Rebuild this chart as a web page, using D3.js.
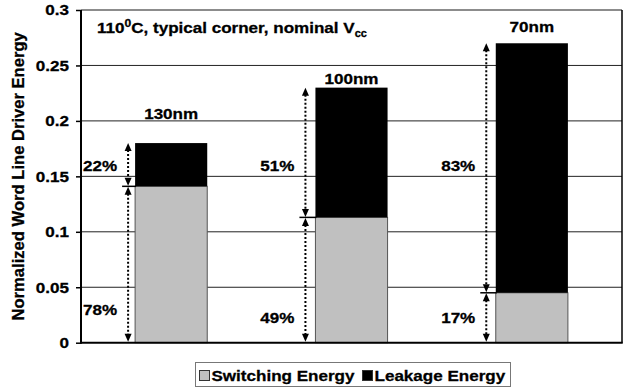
<!DOCTYPE html>
<html>
<head>
<meta charset="utf-8">
<script src="https://cdn.jsdelivr.net/npm/d3@7"></script>
<style>
  body { margin: 0; background: #fff; }
  svg { display: block; font-family: "Liberation Sans", Arial, sans-serif; font-weight: bold; }
  svg text { stroke: #000; stroke-width: 0.3px; fill: #000; }
</style>
</head>
<body>
<svg id="chart"></svg>
<script>
const nodes = ["130nm", "100nm", "70nm"];
const switching = [0.141, 0.113, 0.045];
const leakage = [0.039, 0.117, 0.225];
const yTicks = [0, 0.05, 0.1, 0.15, 0.2, 0.25, 0.3];
const yTickLabels = ["0", "0.05", "0.1", "0.15", "0.2", "0.25", "0.3"];
const seriesNames = ["Switching Energy", "Leakage Energy"];

// hand placement of the annotations in the original
const nodeLabelLift = [24, 4, 11];
const arrowGap = [7, 10, 9.5];

const width = 631, height = 387;
const plotL = 81, plotR = 622, plotT = 10, plotB = 342.7;
const svg = d3.select("#chart").attr("width", width).attr("height", height);

const x = d3.scaleBand().domain(nodes).range([plotL, plotR]).padding(0);
const y = d3.scaleLinear().domain([0, 0.3]).range([plotB, plotT]);
const barW = x.bandwidth() * 0.4;
const barX = d => x(d) + (x.bandwidth() - barW) / 2;

// gridlines
svg.append("g")
    .selectAll("line")
    .data(yTicks.slice(1))
    .enter().append("line")
    .attr("x1", plotL).attr("x2", plotR)
    .attr("y1", d => y(d)).attr("y2", d => y(d))
    .attr("stroke", d => d === 0.3 ? "#666" : "#222")
    .attr("stroke-width", d => d === 0.3 ? 1.5 : 1);

svg.append("line")
    .attr("x1", plotR).attr("x2", plotR)
    .attr("y1", plotT).attr("y2", plotB)
    .attr("stroke", "#000").attr("stroke-width", 1.5);

const data = nodes.map((n, i) => ({
    node: n, sw: switching[i], lk: leakage[i], total: switching[i] + leakage[i], i
}));

// stacked bars
svg.append("g").selectAll("rect")
    .data(data)
    .enter().append("rect")
    .attr("x", d => barX(d.node))
    .attr("width", barW)
    .attr("y", d => y(d.sw))
    .attr("height", d => y(0) - y(d.sw))
    .attr("fill", "#c0c0c0")
    .attr("stroke", "#555")
    .attr("stroke-width", 1);

svg.append("g").selectAll("rect")
    .data(data)
    .enter().append("rect")
    .attr("x", d => barX(d.node))
    .attr("width", barW)
    .attr("y", d => y(d.total))
    .attr("height", d => y(d.sw) - y(d.total))
    .attr("fill", "#000");

// axes
const yAxis = d3.axisLeft(y)
    .tickValues(yTicks)
    .tickFormat((d, i) => yTickLabels[i])
    .tickSize(5)
    .tickPadding(6);

const ag = svg.append("g")
    .attr("transform", `translate(${plotL},0)`)
    .call(yAxis);
ag.select(".domain").remove();
ag.selectAll(".tick line").attr("stroke", "#000").attr("stroke-width", 1.5);
ag.selectAll(".tick text")
    .attr("font-size", 15.5)
    .attr("font-family", "Liberation Sans, Arial, sans-serif")
    .attr("font-weight", "bold")
    .attr("fill", "#000")
    .attr("transform", "scale(1.1,1)");

svg.append("line")
    .attr("x1", plotL).attr("x2", plotL)
    .attr("y1", plotT).attr("y2", plotB + 1)
    .attr("stroke", "#000").attr("stroke-width", 2);
svg.append("line")
    .attr("x1", plotL).attr("x2", plotR + 0.75)
    .attr("y1", plotB).attr("y2", plotB)
    .attr("stroke", "#000").attr("stroke-width", 2);

svg.append("text")
    .attr("transform", `translate(24,${(plotT + plotB) / 2}) rotate(-90)`)
    .attr("text-anchor", "middle")
    .attr("font-size", 16.6)
    .text("Normalized Word Line Driver Energy");

// condition note
const note = svg.append("text")
    .attr("transform", "translate(97,33) scale(1.1,1)")
    .attr("font-size", 15.5);
note.append("tspan").text("110");
note.append("tspan").attr("font-size", 11).attr("dy", -6).text("0");
note.append("tspan").attr("dy", 6).text("C, typical corner, nominal V");
note.append("tspan").attr("font-size", 10).attr("dy", 4).text("cc");

// node labels
svg.append("g").selectAll("text")
    .data(data)
    .enter().append("text")
    .attr("transform", d => `translate(${barX(d.node) + barW / 2},${y(d.total) - nodeLabelLift[d.i]}) scale(1.1,1)`)
    .attr("text-anchor", "middle")
    .attr("font-size", 15.5)
    .text(d => d.node);

// arrows
function arrowHead(g, ax, ay, dir) {
    g.append("path")
        .attr("d", `M${ax},${ay} L${ax - 3.5},${ay - dir * 8} L${ax + 3.5},${ay - dir * 8} Z`)
        .attr("fill", "#000");
}
function dimArrow(g, ax, y1, y2) {
    g.append("line")
        .attr("x1", ax).attr("x2", ax)
        .attr("y1", y1 + 7).attr("y2", y2 - 7)
        .attr("stroke", "#000").attr("stroke-width", 2)
        .attr("stroke-dasharray", "2,2");
    arrowHead(g, ax, y1, -1);
    arrowHead(g, ax, y2, 1);
}

data.forEach(d => {
    const g = svg.append("g");
    const ax = barX(d.node) - arrowGap[d.i];
    dimArrow(g, ax, y(d.total), y(d.sw) - 0.5);
    dimArrow(g, ax, y(d.sw) + 0.5, y(0) - 1);
    g.append("line")
        .attr("x1", ax - 6).attr("x2", barX(d.node) + 1)
        .attr("y1", y(d.sw)).attr("y2", y(d.sw))
        .attr("stroke", "#000").attr("stroke-width", 1.5);

    const pctLeak = Math.round(d.lk / d.total * 100);
    const pctSw = 100 - pctLeak;
    g.append("text")
        .attr("transform", `translate(${ax - 11},${y(0.155)}) scale(1.1,1)`)
        .attr("text-anchor", "end")
        .attr("font-size", 15.5)
        .text(pctLeak + "%");
    g.append("text")
        .attr("transform", `translate(${ax - 11},${y(d.i === 0 ? 0.025 : 0.018)}) scale(1.1,1)`)
        .attr("text-anchor", "end")
        .attr("font-size", 15.5)
        .text(pctSw + "%");
});

// legend
const lg = svg.append("g");
lg.append("rect")
    .attr("x", 195.5).attr("y", 362.5).attr("width", 315).attr("height", 24)
    .attr("fill", "#fff").attr("stroke", "#777").attr("stroke-width", 1);
const legendColors = ["#c0c0c0", "#000"];
const legendX = [199.5, 362.5];
seriesNames.forEach((s, i) => {
    lg.append("rect")
        .attr("x", legendX[i]).attr("y", 370.5).attr("width", 10).attr("height", 10)
        .attr("fill", legendColors[i]).attr("stroke", "#333");
    lg.append("text")
        .attr("transform", `translate(${legendX[i] + 12},381) scale(1.1,1)`)
        .attr("font-size", 15.5)
        .text(s);
});
</script>
</body>
</html>
